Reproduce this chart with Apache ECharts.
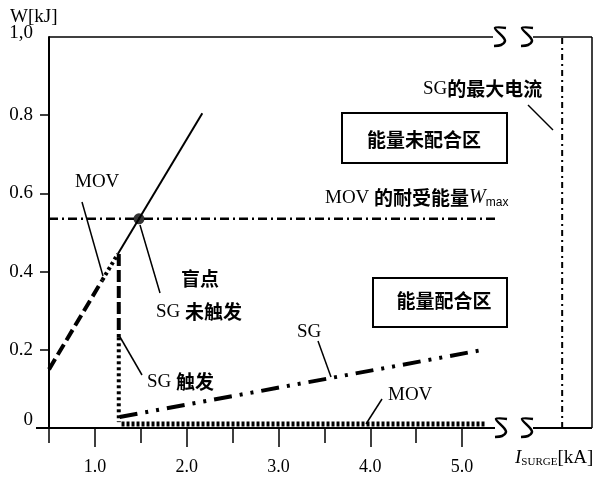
<!DOCTYPE html>
<html><head><meta charset="utf-8">
<script src="https://cdn.jsdelivr.net/npm/echarts@6/dist/echarts.min.js"></script>
<style>html,body{margin:0;padding:0;background:#fff}#c{width:600px;height:477px}</style>
</head><body><div id="c"></div>
<script>
// ---- data ----
const xHalfTicks = [0.5, 1.5, 2.5, 3.5, 4.5];
const xIntTicks = [1, 2, 3, 4, 5];
const xLabelValues = [1, 2, 3, 4, 5];
const yTickValues = [0.2, 0.4, 0.6, 0.8];
const yLabelValues = [0, 0.2, 0.4, 0.6, 0.8, 1];
const movDashed = [[0.5, 0.15], [1.08, 0.378]];
const movDotted = [[1.08, 0.378], [1.25, 0.445]];
const movSolid = [[1.25, 0.445], [2.17, 0.805]];
const sgTrigDashed = [[1.26, 0.445], [1.26, 0.232]];
const sgTrigDotted = [[1.26, 0.232], [1.26, 0.015]];
const sgLine = [[1.27, 0.028], [5.23, 0.2]];
const movBottom = [[1.29, 0.01], [5.25, 0.01]];
const wMaxLine = [[0.5, 0.535], [5.38, 0.535]];
const blindPoint = [[1.48, 0.535]];
const sgMaxLine = [[6.09, 0], [6.09, 1]];

const SERIF = 'Liberation Serif';
const CJK = 'Noto Sans CJK SC';
const chart = echarts.init(document.getElementById('c'), null, {renderer: 'canvas'});

function ln(data, width, type, z) {
  return {type: 'line', data: data, symbol: 'none', silent: true, z: z || 3,
    lineStyle: {color: '#000', width: width, type: type, cap: 'butt'}};
}
const rich = {
  s: {fontFamily: SERIF, fontSize: 19, color: '#000'},
  c: {fontFamily: CJK, fontSize: 19, fontWeight: 'bold', color: '#000'},
  cb: {fontFamily: CJK, fontSize: 19, fontWeight: 'bold', color: '#000'},
  w: {fontFamily: SERIF, fontSize: 20, fontStyle: 'italic', color: '#000'},
  m: {fontFamily: 'Liberation Sans', fontSize: 12, color: '#000', padding: [10, 0, 0, 0]},
  i: {fontFamily: SERIF, fontSize: 19, fontStyle: 'italic', color: '#000'},
  sub: {fontFamily: SERIF, fontSize: 11, color: '#000', padding: [8, 0, 0, 0]}
};
function txt(x, y, text, align) {
  return {type: 'text', x: x, y: y, z: 10, silent: true,
    style: {text: text, rich: rich, align: align || 'left', verticalAlign: 'middle'}};
}
function seg(p1, p2, w) {
  return {type: 'line', z: 10, silent: true,
    shape: {x1: p1[0], y1: p1[1], x2: p2[0], y2: p2[1]},
    style: {stroke: '#000', lineWidth: w || 1.5}};
}
function brk(cx, cy) {
  return {type: 'polyline', x: cx, y: cy, z: 12, silent: true,
    shape: {points: [[6, -9], [-5, -9], [3, 0], [5, 4], [1, 8], [-6, 9]], smooth: 0.3},
    style: {stroke: '#000', fill: null, lineWidth: 2.5}};
}
function box(x, y, w, h) {
  return {type: 'rect', z: 9, silent: true, shape: {x: x, y: y, width: w, height: h},
    style: {stroke: '#000', fill: '#fff', lineWidth: 2}};
}

const xBase = {
  type: 'value', min: 0.5, max: 6.415, position: 'bottom',
  axisLine: {show: false}, splitLine: {show: false}
};

chart.setOption({
  animation: false,
  backgroundColor: '#fff',
  grid: {left: 49, right: 8, top: 37, bottom: 49},
  xAxis: [
    Object.assign({}, xBase, {
      axisTick: {customValues: xHalfTicks, length: 15, lineStyle: {color: '#000', width: 1.5}},
      axisLabel: {show: false}
    }),
    Object.assign({}, xBase, {
      axisTick: {customValues: xIntTicks, length: 19, lineStyle: {color: '#000', width: 1.5}},
      axisLabel: {customValues: xLabelValues, formatter: v => v.toFixed(1), margin: 30,
        fontFamily: SERIF, fontSize: 18, color: '#000'}
    })
  ],
  yAxis: {
    type: 'value', min: 0, max: 1, interval: 0.2,
    axisLine: {show: true, lineStyle: {color: '#000', width: 2}},
    axisTick: {customValues: yTickValues, length: 9, lineStyle: {color: '#000', width: 1.5}},
    splitLine: {show: false},
    axisLabel: {customValues: yLabelValues, margin: 16,
      formatter: v => v === 1 ? '{t|1,0}' : (v === 0 ? '{z|0}' : '{n|' + v.toFixed(1) + '}'),
      rich: {
        t: {fontFamily: SERIF, fontSize: 19, color: '#000', padding: [0, 0, 8, 0]},
        z: {fontFamily: SERIF, fontSize: 19, color: '#000', padding: [0, 0, 16, 0]},
        n: {fontFamily: SERIF, fontSize: 19, color: '#000'}
      }}
  },
  series: [
    ln(movDashed, 4, [12, 5]),
    ln(movDotted, 4, [3, 3]),
    ln(movSolid, 2, 'solid'),
    ln(sgTrigDashed, 4, [12, 4]),
    ln(sgTrigDotted, 4, [3, 3]),
    ln(sgLine, 4, [18, 8, 3, 8, 3, 8]),
    ln(movBottom, 5, [3, 2]),
    ln(wMaxLine, 2.5, [9, 4, 2, 4]),
    ln(sgMaxLine, 2, [6, 4, 2, 4]),
    {type: 'scatter', data: blindPoint, symbol: 'circle', symbolSize: 11, z: 5, silent: true,
      itemStyle: {color: '#000'}}
  ],
  graphic: [
    seg([49, 37], [493, 37], 1.5), seg([533, 37], [592, 37], 1.5),
    seg([592, 37], [592, 428], 1.5),
    seg([36, 428], [495, 428], 2), seg([533, 428], [592, 428], 2),
    brk(500, 37), brk(527, 37), brk(501, 428), brk(527, 428),
    txt(10, 17, '{s|W[kJ]}'),
    txt(515, 458, '{i|I}{sub|SURGE}{s|[kA]}'),
    txt(75, 182, '{s|MOV}'), seg([82, 202], [103, 276]),
    txt(181, 279, '{c|盲点}'),
    txt(156, 312, '{s|SG }{c|未触发}'), seg([140, 225], [160, 293]),
    txt(147, 382, '{s|SG }{c|触发}'), seg([120, 337], [142, 375]),
    txt(297, 332, '{s|SG}'), seg([318, 341], [331, 377]),
    txt(388, 395, '{s|MOV}'), seg([382, 399], [366, 424]),
    txt(325, 198, '{s|MOV }{c|的耐受能量}{w|W}{m|max}'),
    txt(423, 89, '{s|SG}{cb|的最大电流}'), seg([528, 105], [553, 130]),
    box(342, 113, 165, 50), txt(424, 140, '{cb|能量未配合区}', 'center'),
    box(373, 278, 134, 49), txt(444, 301, '{cb|能量配合区}', 'center')
  ]
});
</script>
</body></html>
